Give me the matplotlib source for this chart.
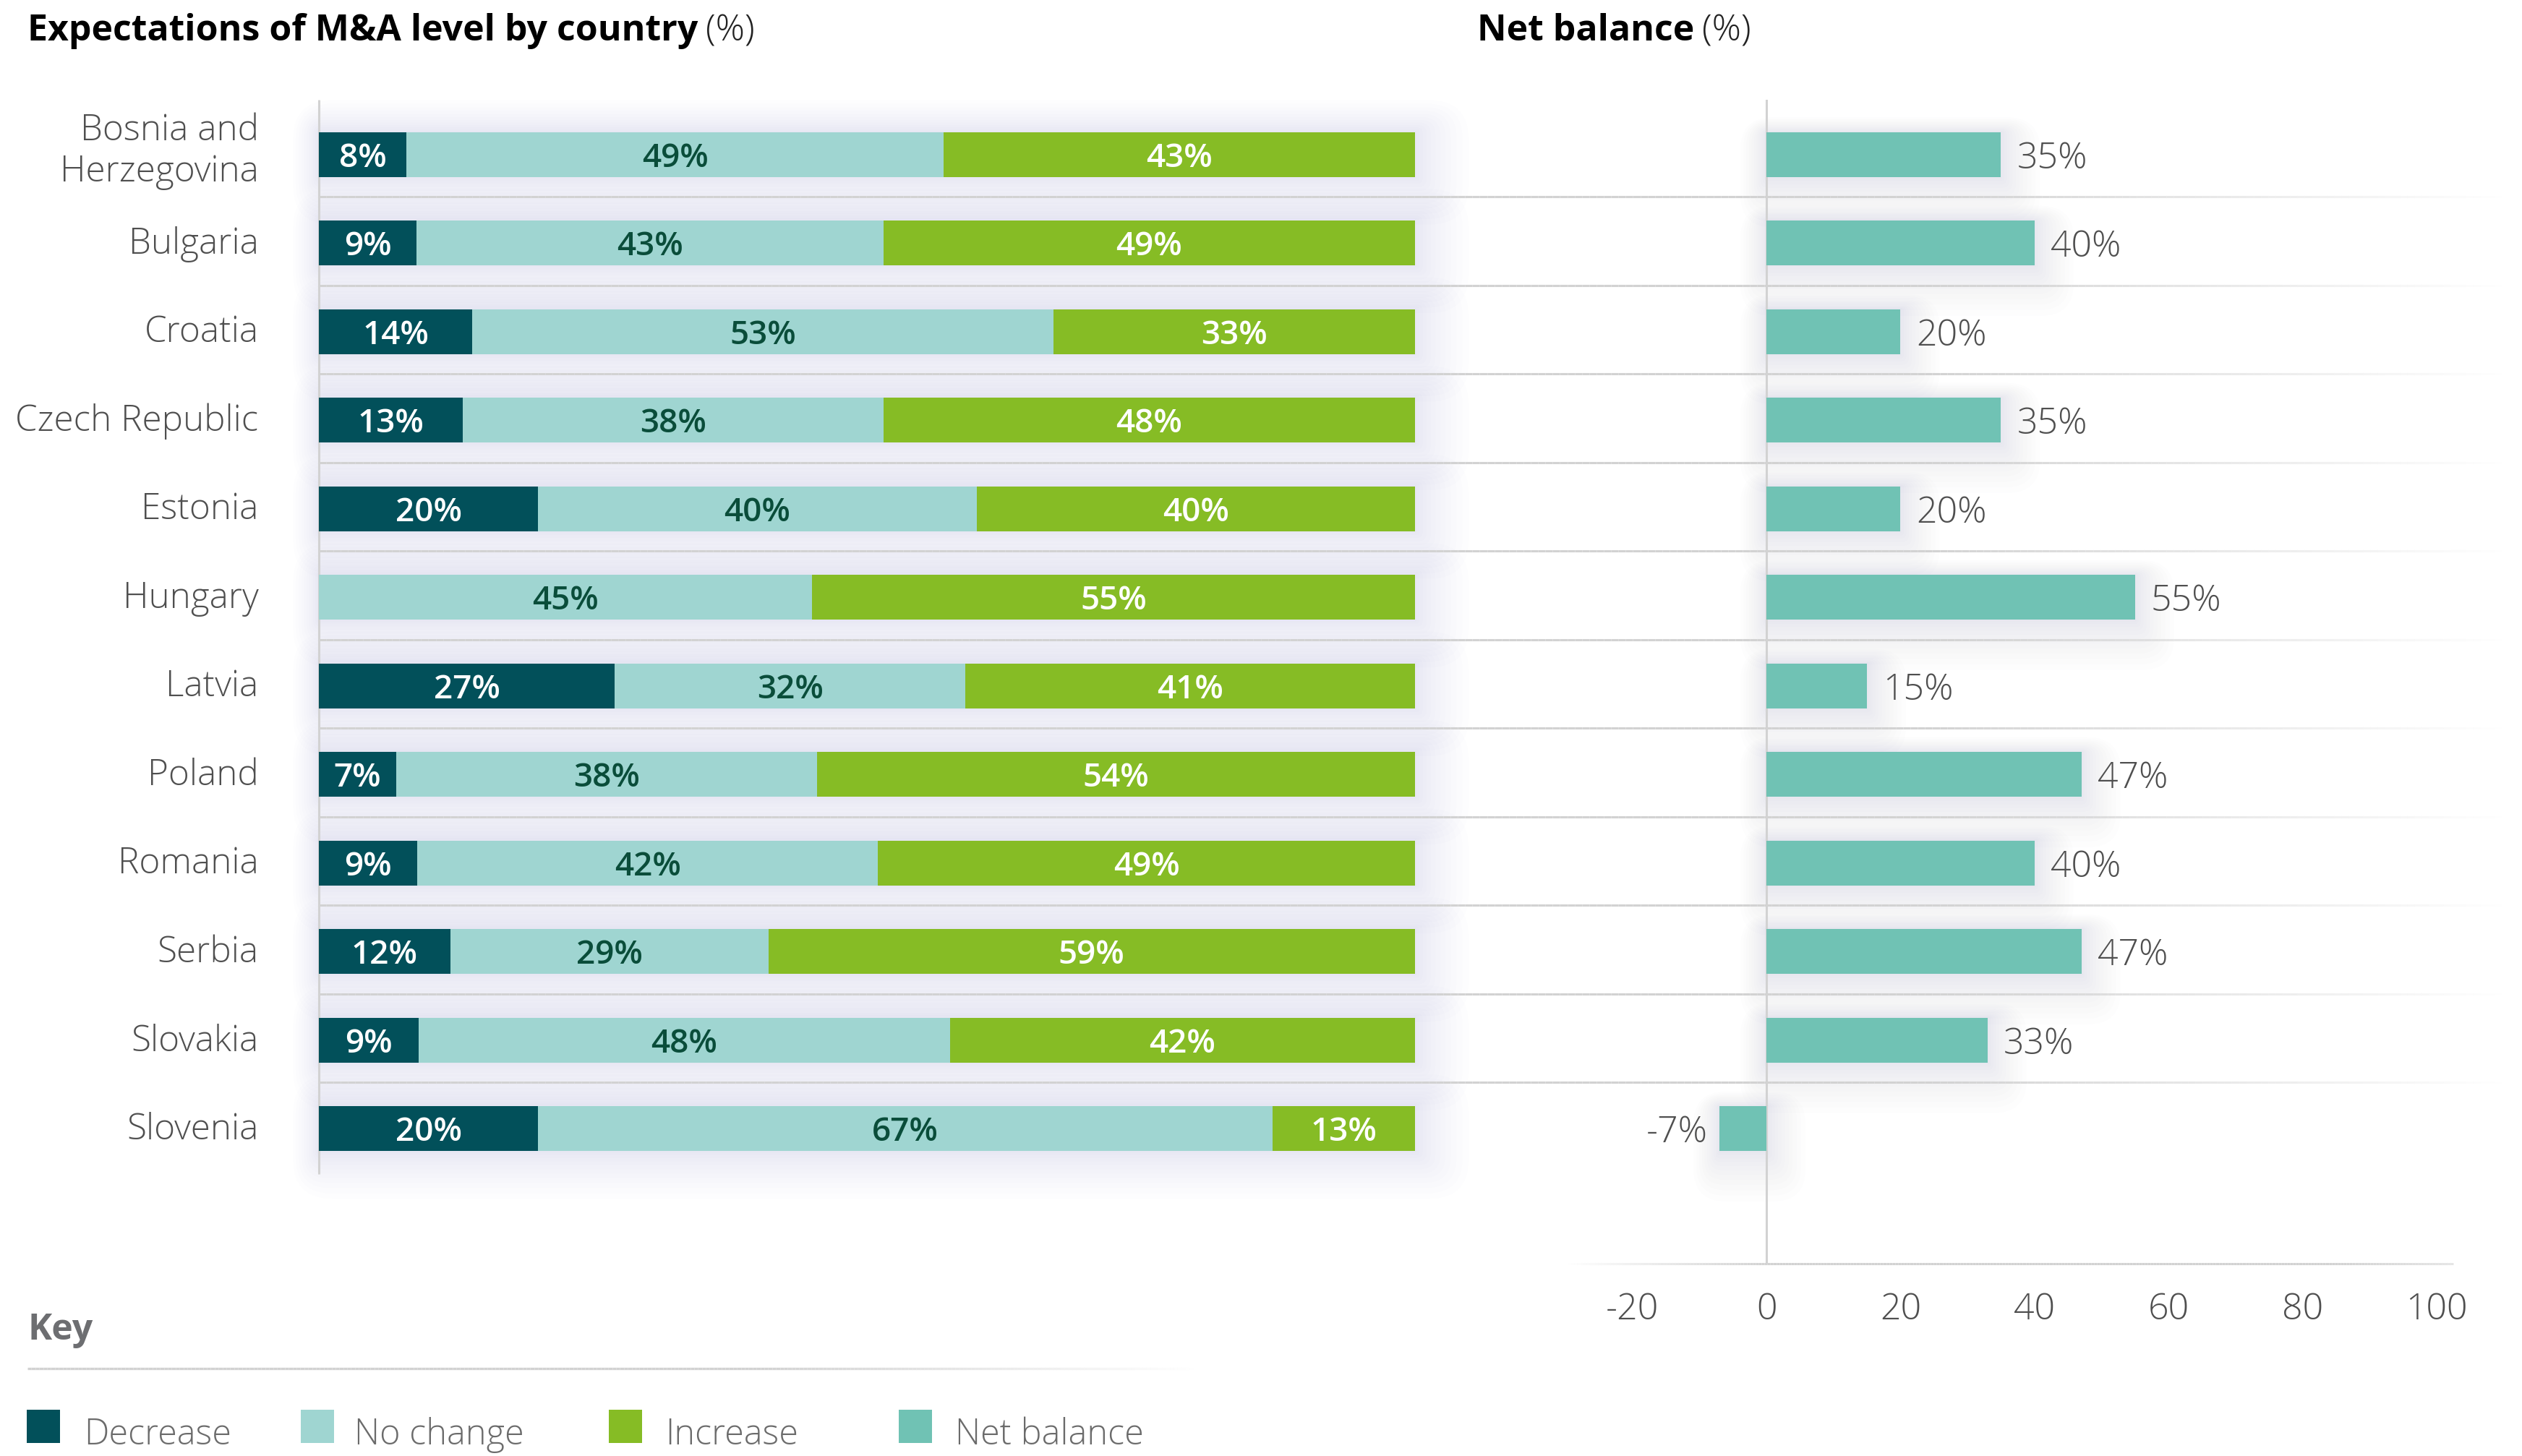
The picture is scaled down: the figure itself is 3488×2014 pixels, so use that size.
import numpy as np
import matplotlib
matplotlib.use("Agg")
import matplotlib.pyplot as plt
from matplotlib.patches import Rectangle, FancyBboxPatch
from matplotlib.collections import LineCollection
from matplotlib.transforms import blended_transform_factory, IdentityTransform
from matplotlib.colors import to_rgba

# ---------------- data ----------------
countries = ["Bosnia and\nHerzegovina", "Bulgaria", "Croatia", "Czech Republic", "Estonia",
             "Hungary", "Latvia", "Poland", "Romania", "Serbia", "Slovakia", "Slovenia"]
decrease = [8, 9, 14, 13, 20, 0, 27, 7, 9, 12, 9, 20]
no_change = [49, 43, 53, 38, 40, 45, 32, 38, 42, 29, 48, 67]
increase = [43, 49, 33, 48, 40, 55, 41, 54, 49, 59, 42, 13]
net_balance = [35, 40, 20, 35, 20, 55, 15, 47, 40, 47, 33, -7]
net_ticks = [-20, 0, 20, 40, 60, 80, 100]
legend_labels = ["Decrease", "No change", "Increase", "Net balance"]

# ---------------- style ----------------
C_DEC = "#02505a"
C_NOC = "#9fd5d1"
C_INC = "#86bc25"
C_NET = "#70c2b4"
C_NOC_TXT = "#0a4d3a"
C_GRID = "#d2d2d2"
C_TXT = "#4f4f4f"
SHADOW = "#9aa3c4"
FONT = ["Open Sans", "DejaVu Sans"]

W, H = 3488, 2014
DPI = 200
fig = plt.figure(figsize=(W / DPI, H / DPI), dpi=DPI)
fig.patch.set_facecolor("white")


def fx(px):
    return px / W


def fy(py):
    return 1 - py / H


Y_TOP, Y_BOT = -0.617, 12.525
PX_TOP, PX_BOT = 138, 1748
BAR_H = 0.506

ax = fig.add_axes([fx(441), fy(PX_BOT), (1957 - 441) / W, (PX_BOT - PX_TOP) / H])
axr = fig.add_axes([fx(2165), fy(PX_BOT), (3393 - 2165) / W, (PX_BOT - PX_TOP) / H])
for a in (ax, axr):
    a.set_facecolor("none")
    for s in a.spines.values():
        s.set_visible(False)
    a.set_ylim(Y_BOT, Y_TOP)
ax.set_xlim(0, 100)
axr.set_xlim(-30, 102.5)

y = np.arange(len(countries))
dec = np.array(decrease, float)
noc = np.array(no_change, float)
inc = np.array(increase, float)
tot = dec + noc + inc
dec_p = dec / tot * 100
noc_p = noc / tot * 100
inc_p = inc / tot * 100

ax.barh(y, dec_p, height=BAR_H, color=C_DEC, zorder=3)
ax.barh(y, noc_p, left=dec_p, height=BAR_H, color=C_NOC, zorder=3)
ax.barh(y, inc_p, left=dec_p + noc_p, height=BAR_H, color=C_INC, zorder=3)

lab_kw = dict(ha="center", va="center_baseline", fontsize=16.5, fontweight="semibold",
              family=FONT, zorder=4)
for i in range(len(countries)):
    if decrease[i] > 0:
        ax.text(dec_p[i] / 2, y[i], f"{decrease[i]}%", color="white", **lab_kw)
    ax.text(dec_p[i] + noc_p[i] / 2, y[i], f"{no_change[i]}%", color=C_NOC_TXT, **lab_kw)
    ax.text(dec_p[i] + noc_p[i] + inc_p[i] / 2, y[i], f"{increase[i]}%", color="white", **lab_kw)

# country labels (right-aligned left of the axis)
for i, name in enumerate(countries):
    dy = 5 if "\n" in name else 1.5
    ax.annotate(name, xy=(0, y[i]), xytext=(-30, dy), textcoords="offset points",
                ha="right", va="center_baseline", fontsize=17.8, fontweight="light",
                family=FONT, color=C_TXT, linespacing=1.2, annotation_clip=False)
ax.set_yticks([])
ax.set_xticks([])

# left axis line
ax.plot([0, 0], [Y_TOP, 11.51], color=C_GRID, lw=1.1, clip_on=False, zorder=2, solid_capstyle="butt")

# net balance panel
axr.barh(y, net_balance, height=BAR_H, color=C_NET, zorder=3)
for i, v in enumerate(net_balance):
    if v >= 0:
        axr.annotate(f"{v}%", xy=(v, y[i]), xytext=(8, 0), textcoords="offset points",
                     ha="left", va="center_baseline", fontsize=18, fontweight="light",
                     family=FONT, color=C_TXT)
    else:
        axr.annotate(f"{v}%", xy=(v, y[i]), xytext=(-6, 0), textcoords="offset points",
                     ha="right", va="center_baseline", fontsize=18, fontweight="light",
                     family=FONT, color=C_TXT)
axr.set_yticks([])
axr.set_xticks(net_ticks)
axr.set_xticklabels([str(t) for t in net_ticks])
for t in axr.get_xticklabels():
    t.set_family(FONT)
    t.set_fontsize(18)
    t.set_fontweight("light")
    t.set_color(C_TXT)
axr.tick_params(axis="x", length=0, pad=14)
axr.axvline(0, color=C_GRID, lw=1.1, zorder=2)


def grad_line(axis, xs, ys, alphas, transform, lw=1.1, color=C_GRID, z=2):
    pts = np.column_stack([xs, ys])
    segs = np.stack([pts[:-1], pts[1:]], axis=1)
    base = np.array(to_rgba(color))
    cols = np.tile(base, (len(segs), 1))
    cols[:, 3] = alphas[:-1]
    lc = LineCollection(segs, colors=cols, linewidths=lw, transform=transform,
                        clip_on=False, zorder=z, capstyle="butt")
    axis.add_collection(lc, autolim=False)


# row separators spanning both panels (figure x, data y)
trans_sep = blended_transform_factory(fig.transFigure, ax.transData)
xs_px = np.linspace(441, 3460, 300)
alph = np.clip((3460 - xs_px) / (3460 - 2650), 0, 1)
for i in range(len(countries) - 1):
    grad_line(ax, fx(xs_px), np.full_like(xs_px, i + 0.48), alph, trans_sep)

# bottom axis line of the right panel
xs_b = np.linspace(-30, 102.5, 300)
alph_b = np.clip((xs_b + 30) / 30, 0, 1) * np.clip(0.55 + (102.5 - xs_b) / 40, 0, 1)
grad_line(axr, xs_b, np.full_like(xs_b, Y_BOT), alph_b, axr.transData)


# soft shadows behind bars (figure pixels)
def add_shadow(axis, x0, x1, yc, h, n=12, reach=52, alpha=0.02, dx=0.45, dy=0.35):
    p0 = axis.transData.transform((x0, yc + h / 2))
    p1 = axis.transData.transform((x1, yc - h / 2))
    bx, by = min(p0[0], p1[0]), min(p0[1], p1[1])
    bw, bh = abs(p1[0] - p0[0]), abs(p1[1] - p0[1])
    for k in range(1, n + 1):
        e = reach * (k / n) ** 1.4
        fig.add_artist(FancyBboxPatch((bx + dx * e, by - dy * e), bw, bh,
                                      boxstyle=f"round,pad={e},rounding_size={e}",
                                      transform=IdentityTransform(), facecolor=SHADOW,
                                      edgecolor="none", alpha=alpha, zorder=-1))


for i in range(len(countries)):
    add_shadow(ax, 0, 100, y[i], BAR_H, reach=55, alpha=0.017, dx=0.35, dy=0.2)
    add_shadow(axr, min(0, net_balance[i]), max(0, net_balance[i]), y[i], BAR_H,
               reach=45, alpha=0.02, dx=0.2, dy=0.55)

# ---------------- titles ----------------
t1 = fig.text(fx(38), fy(56), "Expectations of M&A level by country", fontsize=18,
              fontweight="bold", family=FONT, color="black", va="baseline", ha="left")
ax.annotate("(%)", xy=(1, 0), xycoords=t1, xytext=(4, 0), textcoords="offset points",
            fontsize=18, fontweight="light", family=FONT, color="#222222",
            va="bottom", ha="left", annotation_clip=False)
t2 = fig.text(fx(2043), fy(56), "Net balance", fontsize=18, fontweight="bold",
              family=FONT, color="black", va="baseline", ha="left")
ax.annotate("(%)", xy=(1, 0), xycoords=t2, xytext=(4, 0), textcoords="offset points",
            fontsize=18, fontweight="light", family=FONT, color="#222222",
            va="bottom", ha="left", annotation_clip=False)

# ---------------- key ----------------
fig.text(fx(38), fy(1853), "Key", fontsize=18, fontweight="bold", family=FONT,
         color="#6d6e71", va="baseline", ha="left")
kx = np.linspace(38, 1650, 300)
ka = np.clip((1650 - kx) / (1650 - 1050), 0, 1)
kax = fig.add_axes([0, 0, 1, 1], zorder=-5)
kax.set_axis_off()
kax.set_xlim(0, W)
kax.set_ylim(H, 0)
grad_line(kax, kx, np.full_like(kx, 1893), ka, kax.transData, lw=1.2)

leg_cols = [C_DEC, C_NOC, C_INC, C_NET]
sq_x = [37, 416, 842, 1243]
tx_x = [116, 490, 920, 1321]
for lab, col, sx, tx in zip(legend_labels, leg_cols, sq_x, tx_x):
    fig.add_artist(Rectangle((fx(sx), fy(1996)), 46 / W, 46 / H, transform=fig.transFigure,
                             facecolor=col, edgecolor="none"))
    fig.text(fx(tx), fy(1998), lab, fontsize=17.5, fontweight="light", family=FONT,
             color="#6b6b6b", va="baseline", ha="left")

fig.savefig("out.png", dpi=DPI, facecolor="white")
